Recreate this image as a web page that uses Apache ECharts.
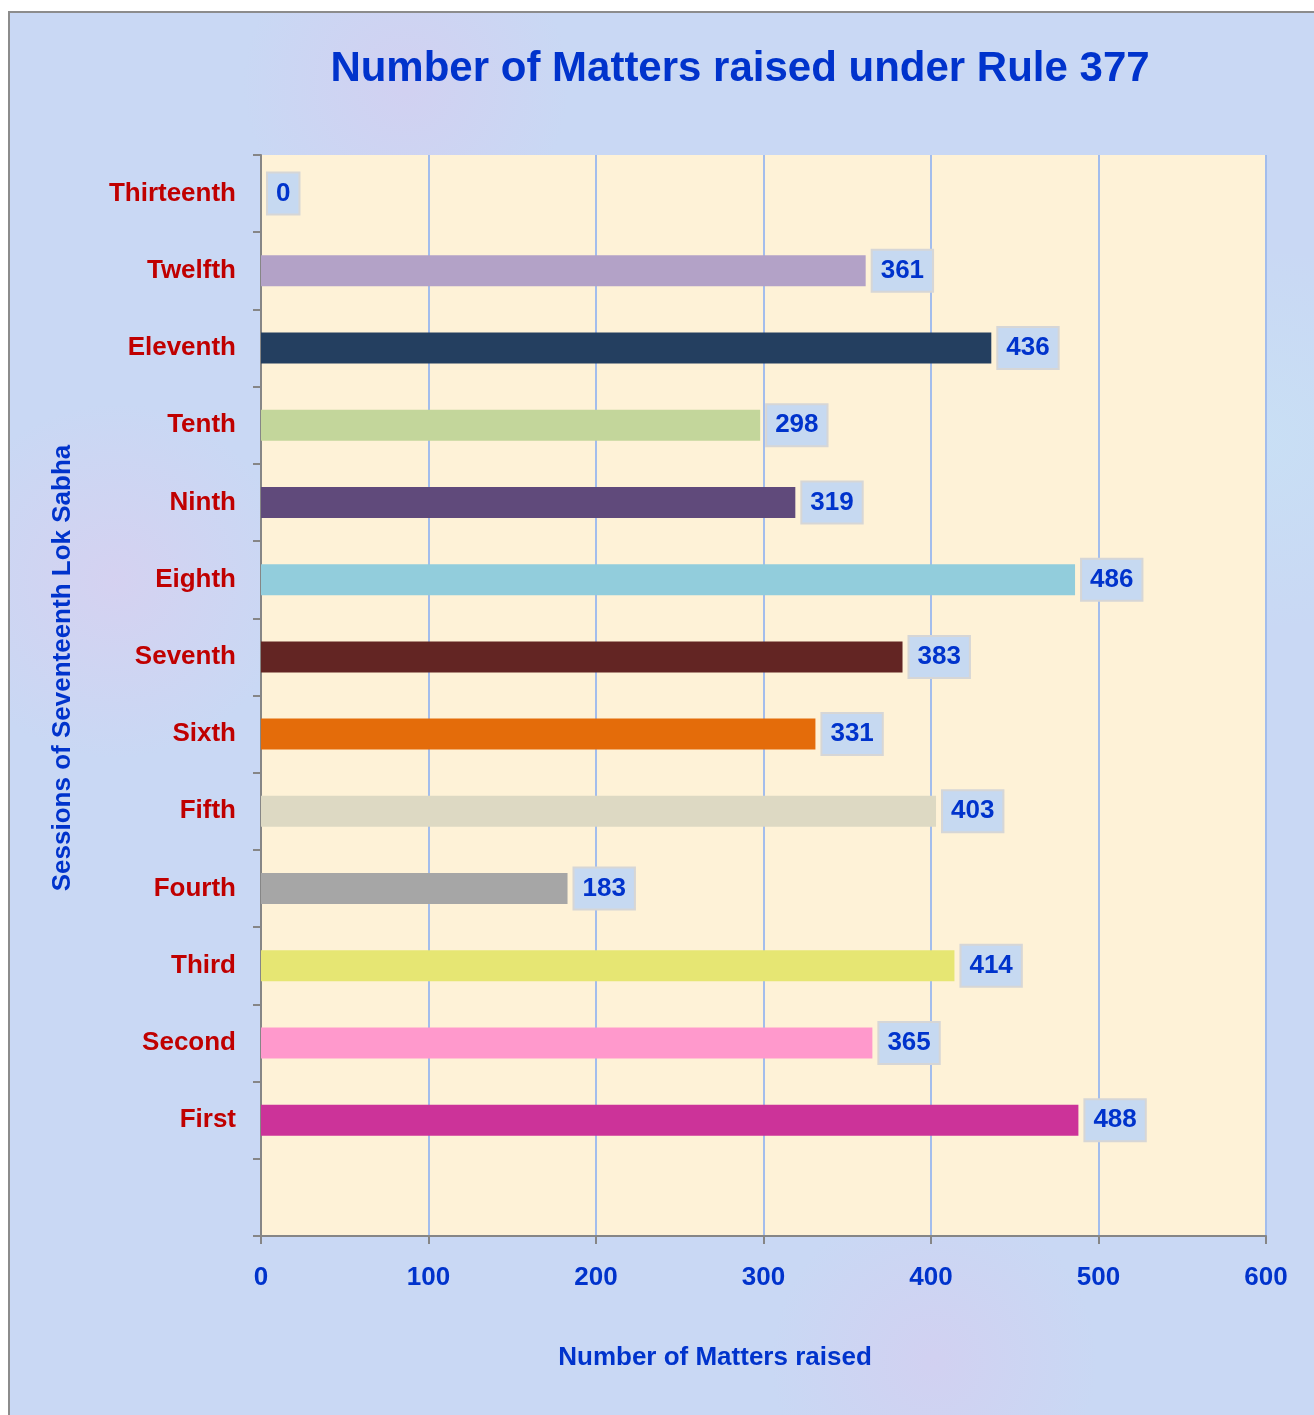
<!DOCTYPE html>
<html>
<head>
<meta charset="utf-8">
<script src="https://cdn.jsdelivr.net/npm/echarts@6/dist/echarts.min.js"></script>
<style>
  html, body { margin: 0; padding: 0; background: #fff; }
  .frame {
    position: absolute; left: 8px; top: 11px; width: 1320px; height: 1420px;
    border: 2px solid #8c8c8c;
    background-color: #c9d8f4;
    background-image:
      radial-gradient(circle at 8% 40%, rgba(230, 200, 235, 0.4), transparent 12%),
      radial-gradient(circle at 30% 5%, rgba(225, 195, 235, 0.35), transparent 10%),
      radial-gradient(circle at 70% 95%, rgba(225, 195, 235, 0.35), transparent 10%),
      radial-gradient(circle at 95% 30%, rgba(200, 230, 245, 0.5), transparent 12%);
  }
  .chart { position: absolute; left: 0; top: 0; width: 1314px; height: 1415px; }
</style>
</head>
<body>
<div class="frame"></div>
<div class="chart" id="chart"></div>
<script>
  // 会期（从下往上），底部留一个空位
  const sessions = ['', 'First', 'Second', 'Third', 'Fourth', 'Fifth', 'Sixth', 'Seventh',
    'Eighth', 'Ninth', 'Tenth', 'Eleventh', 'Twelfth', 'Thirteenth']
  const matters = ['-', 488, 365, 414, 183, 403, 331, 383, 486, 319, 298, 436, 361, 0]
  const barColors = ['#ffffff', '#cc3399', '#ff99cc', '#e6e673', '#a6a6a6', '#ddd9c3', '#e46c0a',
    '#632523', '#92cddc', '#604a7b', '#c3d69b', '#243f60', '#b3a2c7', '#4f81bd']
  const xTicks = { min: 0, max: 600, interval: 100 }

  const blue = '#0033cc'
  const red = '#c00000'
  const font = 'Liberation Sans, Arial, sans-serif'

  let myChart = echarts.init(document.getElementById('chart'))
  let option = {
    backgroundColor: 'transparent',
    animation: false,
    textStyle: { fontFamily: font },
    grid: {
      left: 261,
      top: 155,
      width: 1005,
      height: 1081,
      show: true,
      backgroundColor: '#fef2d7',
      borderWidth: 0
    },
    xAxis: {
      type: 'value',
      min: xTicks.min,
      max: xTicks.max,
      interval: xTicks.interval,
      axisLine: { show: true, lineStyle: { color: '#868686', width: 2 } },
      axisTick: { show: true, length: 8, lineStyle: { color: '#868686', width: 2 } },
      axisLabel: { color: blue, fontWeight: 'bold', fontSize: 26, margin: 29, fontFamily: font },
      splitLine: { show: true, lineStyle: { color: '#a3bdec', width: 2 } }
    },
    yAxis: {
      type: 'category',
      data: sessions,
      axisLine: { show: true, lineStyle: { color: '#868686', width: 2 } },
      axisTick: { show: true, length: 8, alignWithLabel: false, lineStyle: { color: '#868686', width: 2 } },
      axisLabel: { color: red, fontWeight: 'bold', fontSize: 26, margin: 25, interval: 0, fontFamily: font, lineHeight: 30, verticalAlign: 'middle' },
      splitLine: { show: false }
    },
    graphic: [
      {
        type: 'text', z: 10, x: 740, y: 69,
        style: { text: 'Number of Matters raised under Rule 377', fill: blue, font: 'bold 42px ' + font, align: 'center', verticalAlign: 'middle' }
      },
      {
        type: 'text', z: 10, x: 715, y: 1358,
        style: { text: 'Number of Matters raised', fill: blue, font: 'bold 26px ' + font, align: 'center', verticalAlign: 'middle' }
      },
      {
        type: 'text', z: 10, x: 63, y: 668, rotation: Math.PI / 2,
        style: { text: 'Sessions of Seventeenth Lok Sabha', fill: blue, font: 'bold 26px ' + font, align: 'center', verticalAlign: 'middle' }
      }
    ],
    series: [{
      type: 'bar',
      data: matters.map((v, i) => ({ value: v, itemStyle: { color: barColors[i] } })),
      barWidth: 31,
      label: {
        show: true,
        position: 'right',
        distance: 7,
        color: blue,
        fontWeight: 'bold',
        fontSize: 26,
        fontFamily: font,
        backgroundColor: '#c6d9f1',
        borderColor: '#d6d6d6',
        borderWidth: 2,
        padding: [9, 8, 5, 8],
        formatter: p => (p.value === '-' ? '' : p.value)
      }
    }]
  }
  myChart.setOption(option)
</script>
</body>
</html>
